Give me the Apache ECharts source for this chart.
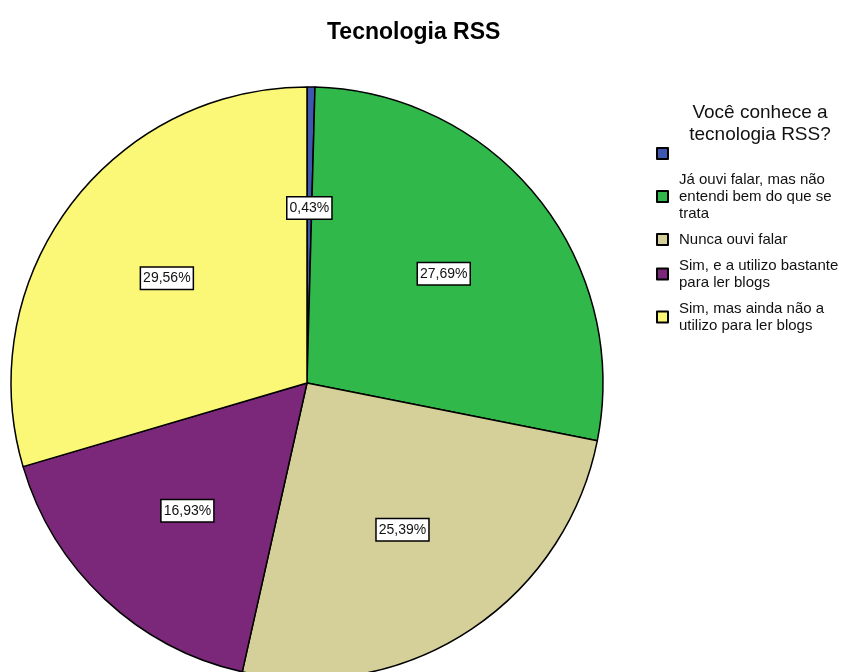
<!DOCTYPE html>
<html>
<head>
<meta charset="utf-8">
<script src="https://cdn.jsdelivr.net/npm/echarts@6/dist/echarts.min.js"></script>
<style>
  html, body { margin: 0; padding: 0; background: #fff; }
  #chart { width: 848px; height: 672px; }
</style>
</head>
<body>
<div id="chart"></div>
<script>
// categorias (a primeira não tem rótulo no original)
const categories = [
  ' ',
  'Já ouvi falar, mas não\nentendi bem do que se\ntrata',
  'Nunca ouvi falar',
  'Sim, e a utilizo bastante\npara ler blogs',
  'Sim, mas ainda não a\nutilizo para ler blogs'
]
const percentages = [0.43, 27.69, 25.39, 16.93, 29.56]
const colors = ['#3d58ae', '#31b84a', '#d5cf99', '#7b287a', '#fbf877']

const font = 'Liberation Sans, Arial, sans-serif'

const pieData = categories.map((name, i) => ({
  name,
  value: percentages[i],
  itemStyle: { color: colors[i] }
}))

const chart = echarts.init(document.getElementById('chart'))

const option = {
  animation: false,
  textStyle: { fontFamily: font },
  graphic: [
    {
      type: 'text',
      left: 327,
      top: 21,
      style: {
        text: 'Tecnologia RSS',
        font: 'bold 23px ' + font,
        fill: '#000'
      }
    },
    {
      type: 'text',
      x: 760,
      y: 124,
      style: {
        text: 'Você conhece a\ntecnologia RSS?',
        font: '19px ' + font,
        lineHeight: 22,
        fill: '#111',
        align: 'center',
        verticalAlign: 'middle'
      }
    }
  ],
  legend: {
    orient: 'vertical',
    left: 656,
    top: 145,
    padding: 0,
    itemWidth: 11,
    itemHeight: 11,
    itemGap: 9,
    icon: 'rect',
    data: categories,
    textStyle: {
      fontFamily: font,
      fontSize: 15,
      lineHeight: 17,
      color: '#111',
      padding: [0, 0, 0, 6]
    }
  },
  series: [
    {
      type: 'pie',
      center: [307, 383],
      radius: [0, 296],
      startAngle: 90,
      clockwise: true,
      silent: true,
      label: { show: false },
      labelLine: { show: false },
      itemStyle: { borderColor: '#000', borderWidth: 1.5 },
      data: pieData
    },
    {
      // camada transparente só para posicionar os rótulos
      type: 'pie',
      center: [307, 383],
      radius: [48, 296],
      startAngle: 90,
      clockwise: true,
      silent: true,
      legendHoverLink: false,
      itemStyle: { color: 'rgba(0,0,0,0)', borderWidth: 0 },
      labelLine: { show: false },
      label: {
        show: true,
        position: 'inside',
        formatter: p => p.value.toFixed(2).replace('.', ',') + '%',
        fontFamily: font,
        fontSize: 14,
        color: '#111',
        backgroundColor: '#fff',
        borderColor: '#000',
        borderWidth: 1.5,
        borderRadius: 0,
        padding: [4, 2, 3, 2]
      },
      data: categories.map((name, i) => ({ name, value: percentages[i] }))
    }
  ]
}

chart.setOption(option)
</script>
</body>
</html>
